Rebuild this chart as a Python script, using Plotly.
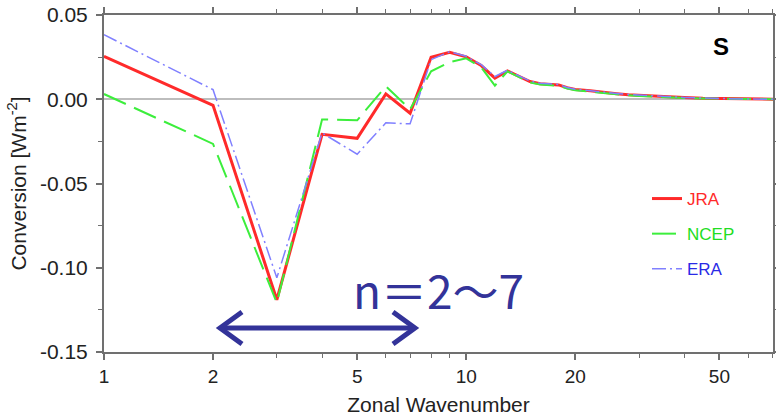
import plotly.graph_objects as go

# ---------------- data ----------------
wavenumber = [1, 2, 3, 4, 5, 6, 7, 8, 9, 10, 11, 12, 13, 14, 15, 16, 17, 18, 19, 20,
              22, 24, 26, 28, 30, 33, 36, 40, 45, 50, 55, 60, 72]

jra = [0.0255, -0.0036, -0.1190, -0.0208, -0.0232, 0.0032, -0.0083, 0.0249, 0.0279, 0.0252,
       0.0200, 0.0125, 0.0168, 0.0136, 0.0105, 0.0092, 0.0088, 0.0085, 0.0068, 0.0058,
       0.0050, 0.0040, 0.0033, 0.0027, 0.0023, 0.0018, 0.0014, 0.0010, 0.0006, 0.0004,
       0.0002, 0.0001, 0.0000]

ncep = [0.0031, -0.0265, -0.1208, -0.0120, -0.0125, 0.0077, -0.0060, 0.0166, 0.0220, 0.0243,
        0.0190, 0.0081, 0.0166, 0.0130, 0.0100, 0.0088, 0.0085, 0.0080, 0.0064, 0.0054,
        0.0045, 0.0036, 0.0029, 0.0023, 0.0019, 0.0014, 0.0011, 0.0008, 0.0005, 0.0003,
        0.0002, 0.0001, 0.0000]

era = [0.0383, 0.0057, -0.1060, -0.0200, -0.0326, -0.0140, -0.0146, 0.0235, 0.0282, 0.0255,
       0.0205, 0.0135, 0.0172, 0.0138, 0.0108, 0.0095, 0.0090, 0.0088, 0.0070, 0.0060,
       0.0051, 0.0041, 0.0034, 0.0028, 0.0024, 0.0019, 0.0015, 0.0011, 0.0007, 0.0004,
       0.0002, 0.0001, 0.0000]

x_tick_vals = [1, 2, 5, 10, 20, 50]
x_tick_text = ["1", "2", "5", "10", "20", "50"]
x_minor_vals = [3, 4, 6, 7, 8, 9, 30, 40, 60, 70]
y_tick_vals = [-0.15, -0.10, -0.05, 0.00, 0.05]
y_tick_text = ["-0.15", "-0.10", "-0.05", "0.00", "0.05"]
y_minor_vals = [-0.125, -0.075, -0.025, 0.025]

# ---------------- figure ----------------
W, H = 776, 418
ML, MR, MT, MB = 104, 3, 15, 66
PW, PH = W - ML - MR, H - MT - MB
FONT = "Liberation Sans, Arial, Helvetica, sans-serif"
AXC = "#707070"


def px(xp):
    return (xp - ML) / PW


def py(yp):
    return (H - MB - yp) / PH


fig = go.Figure()
fig.add_trace(go.Scatter(x=wavenumber, y=jra, mode="lines", legendgroup="a",
                         name="<span style='color:#ff2a2a'>JRA</span>",
                         line=dict(color="#ff2a2a", width=3)))
fig.add_trace(go.Scatter(x=wavenumber, y=ncep, mode="lines", legendgroup="b",
                         name="<span style='color:#22dd22'>NCEP</span>",
                         line=dict(color="#3cee3c", width=2, dash="24px,9px")))
fig.add_trace(go.Scatter(x=wavenumber, y=era, mode="lines", legendgroup="c",
                         name="<span style='color:#2a2ae6'>ERA</span>",
                         line=dict(color="#8080ff", width=1.5, dash="14px,4px,2px,4px")))

fig.update_layout(
    width=W, height=H,
    margin=dict(l=ML, r=MR, t=MT, b=MB, autoexpand=False),
    paper_bgcolor="white", plot_bgcolor="white",
    font=dict(family=FONT, size=19, color="#222"),
    showlegend=True,
    legend=dict(x=px(647), y=py(181), xanchor="left", yanchor="top",
                bgcolor="rgba(0,0,0,0)", font=dict(size=17, family=FONT),
                tracegroupgap=10, itemwidth=30),
    xaxis=dict(type="log", range=[0, 1.847], automargin=False,
               tickmode="array", tickvals=x_tick_vals, ticktext=x_tick_text,
               ticks="outside", ticklen=6, tickwidth=1.5, tickcolor=AXC,
               minor=dict(tickmode="array", tickvals=x_minor_vals, ticks="outside",
                          ticklen=4, tickwidth=1, tickcolor=AXC),
               showline=True, linecolor=AXC, linewidth=2, mirror="ticks",
               showgrid=False, zeroline=False,
               title=dict(text="Zonal Wavenumber", font=dict(size=21), standoff=12)),
    yaxis=dict(range=[-0.15, 0.05], automargin=False,
               tickmode="array", tickvals=y_tick_vals, ticktext=y_tick_text,
               tickfont=dict(size=21), ticklabelstandoff=4,
               ticks="outside", ticklen=6, tickwidth=1.5, tickcolor=AXC,
               minor=dict(tickmode="array", tickvals=y_minor_vals, ticks="outside",
                          ticklen=4, tickwidth=1, tickcolor=AXC),
               showline=True, linecolor=AXC, linewidth=2, mirror="ticks",
               showgrid=False,
               zeroline=True, zerolinecolor="#bdbdbd", zerolinewidth=1.5,
               title=dict(text="Conversion [Wm<sup>-2</sup>]", font=dict(size=21), standoff=8)),
)

# panel label
fig.add_annotation(xref="paper", yref="paper", x=px(721), y=py(47), text="<b>S</b>",
                   showarrow=False, font=dict(size=24, color="black", family=FONT),
                   xanchor="center", yanchor="middle")

# n=2~7 annotation
ARC = "#333399"
fig.add_annotation(xref="paper", yref="paper", x=px(438), y=py(289), text="n＝2〜7",
                   showarrow=False, font=dict(size=46, color=ARC, family="Noto Sans CJK JP"),
                   xanchor="center", yanchor="middle")

ay = 328
xl, xr = 220, 415
fig.add_shape(type="line", xref="paper", yref="paper",
              x0=px(xl), x1=px(xr), y0=py(ay), y1=py(ay),
              line=dict(color=ARC, width=5))
for tip, back in ((xl, xl + 22), (xr, xr - 22)):
    path = "M{},{} L{},{} L{},{}".format(px(back), py(ay - 16), px(tip), py(ay),
                                         px(back), py(ay + 16))
    fig.add_shape(type="path", xref="paper", yref="paper", path=path,
                  line=dict(color=ARC, width=5))

fig.write_html("out.html")
